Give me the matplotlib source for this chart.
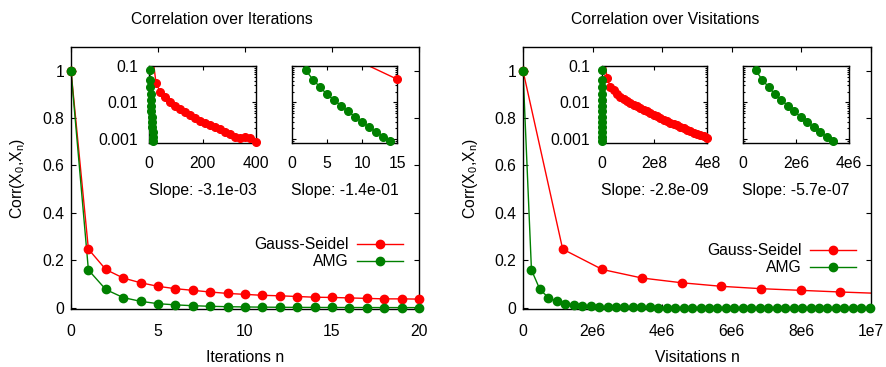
import matplotlib
matplotlib.use("Agg")
import matplotlib.pyplot as plt
from matplotlib.lines import Line2D
import numpy as np

plt.rcParams['font.family'] = ['Liberation Sans', 'DejaVu Sans']
plt.rcParams['mathtext.default'] = 'regular'
plt.rcParams['font.size'] = 11.3

# ---------------- data ----------------
iterations = list(range(0, 21))
gs_corr = [1.0, 0.247, 0.161, 0.125, 0.105, 0.090, 0.080, 0.073, 0.066, 0.060,
           0.056, 0.052, 0.050, 0.047, 0.044, 0.043, 0.041, 0.039, 0.037, 0.037, 0.036]

amg_iterations = list(range(0, 42))
amg_corr = [1.0, 0.159, 0.0766, 0.0425, 0.0267, 0.0167, 0.0117, 0.0082, 0.0057, 0.0040,
            0.0029, 0.0021, 0.00154, 0.00116, 0.00090, 0.00068, 0.00052, 0.00040, 0.00031,
            0.00024, 0.00018, 0.00014, 0.00011, 8.5e-5, 6.6e-5, 5.1e-5, 4.0e-5, 3.1e-5,
            2.4e-5, 1.9e-5, 1.5e-5, 1.2e-5, 9.0e-6, 7.0e-6, 5.5e-6, 4.3e-6, 3.3e-6, 2.6e-6,
            2.0e-6, 1.6e-6, 1.2e-6, 1.0e-6]

# visitations per iteration
gs_visits_per_iter = 1.14e6
amg_visits_per_iter = 2.43e5

# long-run Gauss-Seidel (inset, iterations)
gs_long_iter = [0, 25, 40, 60, 79, 98, 116, 135, 154, 172, 191, 210, 229, 247, 266,
                285, 304, 322, 341, 360, 379, 400]
gs_long_corr = [1.0, 0.0351, 0.0199, 0.0138, 0.0101, 0.0080, 0.00648, 0.00535, 0.00452,
                0.00381, 0.00315, 0.00278, 0.00240, 0.00211, 0.00182, 0.00160, 0.00135,
                0.00112, 0.00107, 0.00112, 0.00107, 0.00085]

# long-run Gauss-Seidel (inset, visitations)
gs_long_visits = [0, 2.08e7, 3.34e7, 4.60e7, 5.86e7, 7.12e7, 8.38e7, 9.64e7, 1.090e8,
                  1.216e8, 1.342e8, 1.468e8, 1.594e8, 1.720e8, 1.846e8, 1.972e8, 2.098e8,
                  2.224e8, 2.350e8, 2.476e8, 2.602e8, 2.728e8, 2.854e8, 2.980e8, 3.106e8,
                  3.232e8, 3.358e8, 3.484e8, 3.610e8, 3.736e8, 3.862e8, 3.988e8]
gs_long_visits_corr = [1.0, 0.0462, 0.0272, 0.0220, 0.0168, 0.0142, 0.01245, 0.01097,
                       0.00966, 0.00869, 0.00782, 0.00704, 0.00634, 0.00570, 0.00513,
                       0.00461, 0.00415, 0.00373, 0.00336, 0.00309, 0.00278, 0.00255,
                       0.00234, 0.00211, 0.00194, 0.00178, 0.00164, 0.00150, 0.00138,
                       0.00127, 0.00117, 0.00107]

slope_labels = ['Slope: -3.1e-03', 'Slope: -1.4e-01', 'Slope: -2.8e-09', 'Slope: -5.7e-07']
titles = ['Correlation over Iterations', 'Correlation over Visitations']
xlabels = ['Iterations n', 'Visitations n']
ylabel = 'Corr(X$_0$,X$_n$)'
series_names = ['Gauss-Seidel', 'AMG']

main_yticks = [0, 0.2, 0.4, 0.6, 0.8, 1]
main_yticklabels = ['0', '0.2', '0.4', '0.6', '0.8', '1']
left_xticks = [0, 5, 10, 15, 20]
left_xticklabels = ['0', '5', '10', '15', '20']
right_xticks = [0, 2e6, 4e6, 6e6, 8e6, 1e7]
right_xticklabels = ['0', '2e6', '4e6', '6e6', '8e6', '1e7']
inset_yticks = [0.1, 0.01, 0.001]
inset_yticklabels = ['0.1', '0.01', '0.001']
inset1_xticks = [0, 200, 400]
inset1_xticklabels = ['0', '200', '400']
inset2_xticks = [0, 5, 10, 15]
inset2_xticklabels = ['0', '5', '10', '15']
inset3_xticks = [0, 2e8, 4e8]
inset3_xticklabels = ['0', '2e8', '4e8']
inset4_xticks = [0, 2e6, 4e6]
inset4_xticklabels = ['0', '2e6', '4e6']

RED = '#ff0000'
GREEN = '#008000'

# ---------------- figure ----------------
W, H = 887, 367
fig = plt.figure(figsize=(W / 100, H / 100), dpi=100)


def px_axes(x0, x1, ytop, ybot):
    return fig.add_axes([x0 / W, 1 - ybot / H, (x1 - x0) / W, (ybot - ytop) / H])


def series(ax, x, y, color, xlim, ylim, ms):
    x = np.asarray(x, dtype=float)
    y = np.asarray(y, dtype=float)
    ax.plot(x, y, '-', color=color, lw=1.0, zorder=2)
    m = (x >= xlim[0]) & (x <= xlim[1] * 1.0001) & (y >= ylim[0] * 0.9999) & (y <= ylim[1] * 1.0001)
    ax.plot(x[m], y[m], 'o', color=color, ms=ms, ls='none', clip_on=False, zorder=3)


def style(ax, major_len=3.6, pad_x=10.5, pad_y=5):
    for s in ax.spines.values():
        s.set_linewidth(1.0)
        s.set_color('black')
    ax.tick_params(which='both', direction='in', top=True, right=True,
                   width=0.8, colors='black')
    ax.tick_params(which='major', length=major_len)
    ax.tick_params(which='minor', length=major_len * 0.5)
    ax.tick_params(axis='x', pad=pad_x)
    ax.tick_params(axis='y', pad=pad_y)
    ax.set_facecolor('none')


ylim_main = (-0.007, 1.1)
ylim_inset = (0.0008, 0.1)
ms_main = 6.0
ms_inset = 5.5

panels = [
    dict(x0=71, x1=419, cx=221.5, xlim=(0, 20), xt=left_xticks, xtl=left_xticklabels,
         gx=iterations, ax_=amg_iterations, scale_gs=1.0, scale_amg=1.0,
         leg_right=403, leg_top=237),
    dict(x0=523, x1=871, cx=665, xlim=(0, 1e7), xt=right_xticks, xtl=right_xticklabels,
         gx=iterations[:10], ax_=amg_iterations, scale_gs=gs_visits_per_iter,
         scale_amg=amg_visits_per_iter, leg_right=856, leg_top=243),
]

for i, p in enumerate(panels):
    ax = px_axes(p['x0'], p['x1'], 47, 309.3)
    gx = np.asarray(p['gx']) * p['scale_gs']
    gy = gs_corr[:len(p['gx'])]
    axx = np.asarray(p['ax_']) * p['scale_amg']
    series(ax, gx, gy, RED, p['xlim'], ylim_main, ms_main)
    series(ax, axx, amg_corr, GREEN, p['xlim'], ylim_main, ms_main)
    ax.set_xlim(*p['xlim'])
    ax.set_ylim(*ylim_main)
    ax.set_xticks(p['xt'])
    ax.set_xticklabels(p['xtl'])
    ax.set_yticks(main_yticks)
    ax.set_yticklabels(main_yticklabels)
    style(ax)
    handles = [Line2D([], [], color=RED, lw=1.0, marker='o', ms=ms_main),
               Line2D([], [], color=GREEN, lw=1.0, marker='o', ms=ms_main)]
    ax.legend(handles, series_names, loc='upper right',
              bbox_to_anchor=(p['leg_right'] / W, 1 - p['leg_top'] / H),
              bbox_transform=fig.transFigure, frameon=False, markerfirst=False,
              borderpad=0, borderaxespad=0, handlelength=2.9, handletextpad=0.55,
              labelspacing=0.15, fontsize=11.3)
    fig.text(p['cx'] / W, 1 - 24 / H, titles[i], ha='center', va='baseline', fontsize=11.3)
    fig.text((p['x0'] + p['x1']) / 2 / W, 1 - 361.7 / H, xlabels[i], ha='center',
             va='baseline', fontsize=11.3)
    fig.text((p['x0'] - 53) / W, 178 / H if False else 1 - 178 / H, ylabel, rotation=90,
             ha='center', va='center', fontsize=11.3)

# ---------------- insets ----------------
insets = [
    dict(x0=149.3, x1=256, xlim=(0, 400), xt=inset1_xticks, xtl=inset1_xticklabels,
         ylab=True,
         red=(gs_long_iter, gs_long_corr),
         green=(amg_iterations, amg_corr)),
    dict(x0=291.7, x1=397.5, xlim=(0, 15), xt=inset2_xticks, xtl=inset2_xticklabels,
         ylab=False,
         red=(iterations[::15], gs_corr[::15]),
         green=(amg_iterations, amg_corr)),
    dict(x0=601.5, x1=707.3, xlim=(0, 4e8), xt=inset3_xticks, xtl=inset3_xticklabels,
         ylab=True,
         red=(gs_long_visits, gs_long_visits_corr),
         green=(np.asarray(amg_iterations) * amg_visits_per_iter, amg_corr)),
    dict(x0=742.7, x1=849, xlim=(0, 4e6), xt=inset4_xticks, xtl=inset4_xticklabels,
         ylab=False,
         red=None,
         green=(np.asarray(amg_iterations) * amg_visits_per_iter, amg_corr)),
]

for i, p in enumerate(insets):
    ax = px_axes(p['x0'], p['x1'], 66, 142.5)
    ax.set_yscale('log')
    if p['red'] is not None:
        series(ax, p['red'][0], p['red'][1], RED, p['xlim'], ylim_inset, ms_inset)
    series(ax, p['green'][0], p['green'][1], GREEN, p['xlim'], ylim_inset, ms_inset)
    ax.set_xlim(*p['xlim'])
    ax.set_ylim(*ylim_inset)
    ax.set_xticks(p['xt'])
    ax.set_xticklabels(p['xtl'])
    ax.set_yticks(inset_yticks)
    if p['ylab']:
        ax.set_yticklabels(inset_yticklabels)
    else:
        ax.set_yticklabels([])
    style(ax, major_len=3.2, pad_x=10.0, pad_y=8)
    fig.text((p['x0'] + p['x1']) / 2 / W, 1 - 195.5 / H, slope_labels[i], ha='center',
             va='baseline', fontsize=11.3)

fig.savefig('out.png', dpi=100, facecolor='white')
